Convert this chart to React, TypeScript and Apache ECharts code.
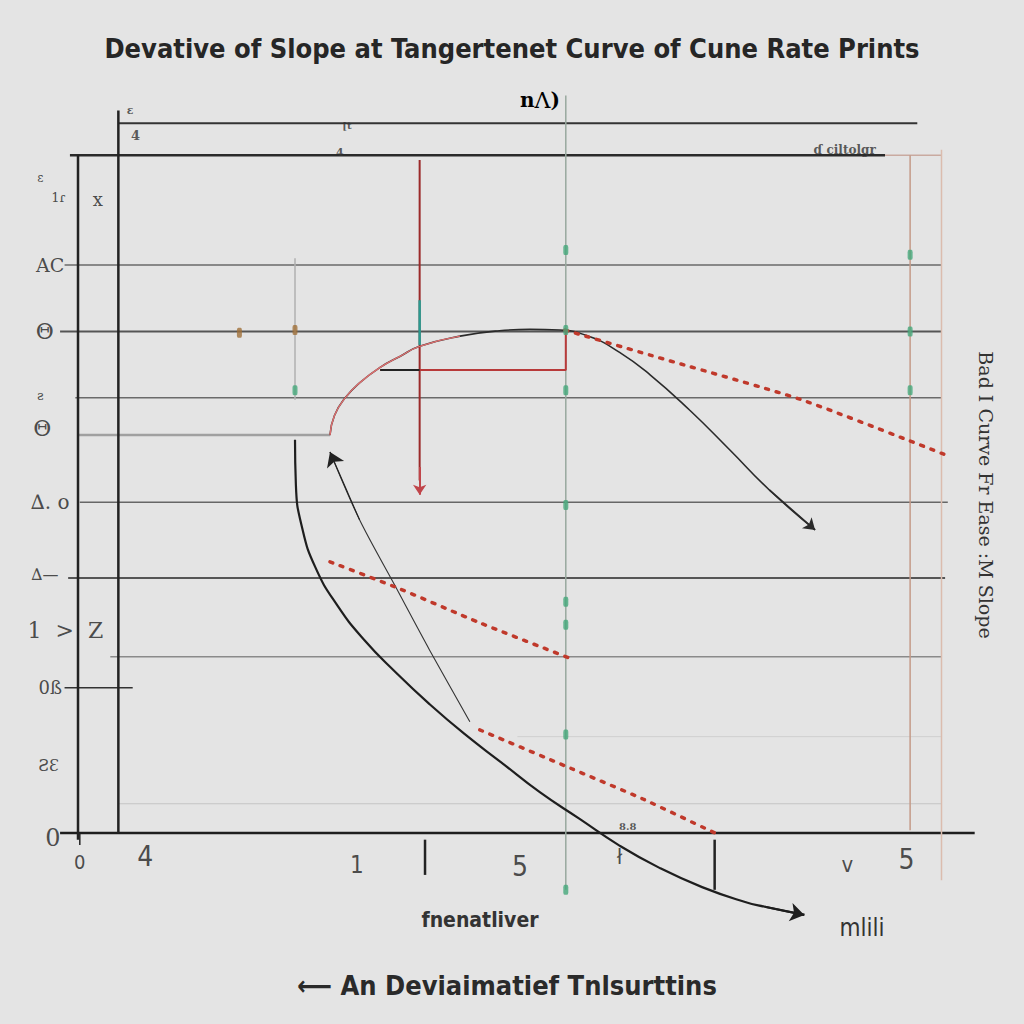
import React, { useEffect, useRef } from "react";
import * as echarts from "echarts";

// Axis extents (data space covers the whole canvas; axes themselves are drawn as lines)
const X_MIN = -0.87;
const X_MAX = 10.55;
const Y_MIN = -2.82;
const Y_MAX = 12.29;

// Horizontal rule lines: y value, start x, end x
const hLineY = [10.47, 10.0, 10.0, 8.38, 7.4, 6.42, 5.87, 4.88, 3.76, 2.6, 2.14, 1.42, 0.43, 0];
const hLineFrom = [0.45, -0.09, 9.0, -0.15, -0.2, -0.03, 0, 0.02, -0.11, 0.36, -0.15, 4.9, 0.45, -0.2];
const hLineTo = [9.36, 9.0, 9.63, 9.63, 9.63, 9.63, 2.81, 9.7, 9.67, 9.63, 0.61, 9.63, 9.63, 10.0];
const hLineColor = ["#333", "#2a2a2a", "#c9aaa0", "#6a6a6a", "#555", "#6a6a6a", "#a0a0a0", "#666", "#555", "#8a8a8a", "#333", "#cfcfcf", "#c4c4c4", "#1e1e1e"];
const hLineWidth = [2, 2.5, 1.5, 1.5, 2, 1.5, 2.5, 1.5, 2, 1.5, 1.5, 1, 1, 2.5];

// Vertical rule lines: x value, start y, end y
const vLineX = [0, 0.45, 2.42, 3.81, 5.44, 7.1, 9.28, 9.63, 3.87, 0.02];
const vLineFrom = [-0.1, 0, 6.39, 5.2, -0.84, -0.84, 0.04, -0.7, -0.62, -0.18];
const vLineTo = [10.0, 10.66, 8.48, 9.93, 10.88, -0.1, 10.0, 10.08, -0.1, 0];
const vLineColor = ["#222", "#222", "#b0b0b0", "#9b2a2a", "#98a89e", "#222", "#c49a88", "#dbbcae", "#222", "#222"];
const vLineWidth = [2.5, 2.5, 1.5, 2, 1.5, 2.5, 1.5, 1.5, 2.5, 1.5];

// Teal overlay on the red vertical
const tealX = [3.81, 3.81];
const tealY = [7.86, 7.2];

// Red step: horizontal then vertical
const stepX = [3.37, 5.44, 5.44];
const stepY = [6.83, 6.83, 7.42];

// Upper arc (rises, peaks, falls to arrow)
const arcX = [2.81, 2.86, 2.98, 3.14, 3.37, 3.59, 3.81, 4.26, 4.7, 5.04, 5.37, 5.71, 6.04, 6.38, 6.82, 7.27, 7.71, 8.22];
const arcY = [5.87, 6.16, 6.42, 6.64, 6.87, 7.03, 7.18, 7.33, 7.41, 7.43, 7.42, 7.32, 7.09, 6.76, 6.24, 5.65, 5.06, 4.47];

// Lower large curve
const lowX = [2.42, 2.43, 2.5, 2.65, 2.89, 3.19, 3.55, 3.92, 4.31, 4.73, 5.15, 5.59, 6.03, 6.49, 6.96, 7.44, 7.66, 8.1];
const lowY = [5.8, 5.13, 4.5, 3.91, 3.36, 2.85, 2.36, 1.9, 1.46, 1.03, 0.6, 0.21, -0.18, -0.52, -0.8, -1.02, -1.09, -1.21];

// Thin diagonal line
const thinX = [2.81, 3.14, 3.53, 3.92, 4.37];
const thinY = [5.62, 4.62, 3.66, 2.7, 1.64];

// Red dotted tangent lines
const dot1X = [5.43, 6.38, 8.05, 9.67];
const dot1Y = [7.42, 7.05, 6.4, 5.58];
const dot2X = [2.81, 3.59, 4.48, 5.48];
const dot2Y = [4.0, 3.6, 3.1, 2.58];
const dot3X = [4.48, 5.5, 6.3, 7.1];
const dot3Y = [1.52, 0.95, 0.5, 0.0];

// Green marks
const greenX = [5.44, 5.44, 5.44, 5.44, 5.44, 5.44, 5.44, 5.44, 9.28, 9.28, 9.28, 2.42];
const greenY = [8.6, 7.42, 6.53, 4.84, 3.41, 3.07, 1.45, -0.84, 8.53, 7.4, 6.53, 6.53];

// Brown marks
const brownX = [2.42, 1.8];
const brownY = [7.42, 7.38];

// Left tick labels
const leftLabels = ["ε", "1ɾ", "x", "AC", "Θ", "ꙅ", "Θ", "∆. o", "∆—", "1  >  Z", "0ß", "ƧƐ", "0"];
const leftX = [-0.42, -0.22, 0.22, -0.31, -0.37, -0.42, -0.4, -0.31, -0.37, -0.14, -0.31, -0.33, -0.28];
const leftY = [9.66, 9.37, 9.34, 8.38, 7.4, 6.45, 5.97, 4.88, 3.81, 2.99, 2.14, 1.0, -0.07];
const leftSize = [12, 13, 18, 19, 22, 13, 22, 20, 16, 22, 18, 16, 24];

// Bottom tick labels
const bottomLabels = ["0", "4", "1", "5", "ł", "v", "5"];
const bottomX = [0.02, 0.75, 3.11, 4.93, 6.04, 8.58, 9.24];
const bottomY = [-0.43, -0.35, -0.47, -0.5, -0.35, -0.47, -0.4];
const bottomSize = [20, 28, 24, 28, 22, 22, 28];

// Small scattered annotations
const noteLabels = ["ɛ", "4", "[t", "4", "ɗ ciltolgr", "8.8"];
const noteX = [0.58, 0.64, 3.0, 2.92, 8.55, 6.13];
const noteY = [10.66, 10.29, 10.44, 10.04, 10.07, 0.1];
const noteSize = [11, 13, 10, 11, 12, 10];

const pairs = (xs: number[], ys: number[]) => xs.map((x, i) => [x, ys[i]]);

function lineSeries(data: number[][], color: string, width: number, extra: any = {}) {
  return {
    type: "line",
    data,
    symbol: "none",
    showSymbol: false,
    clip: false,
    silent: true,
    animation: false,
    lineStyle: { color, width, ...(extra.lineStyle || {}) },
    smooth: extra.smooth || false,
    z: extra.z || 2,
  };
}

function arrowSeries(from: number[], to: number[], color: string, width: number, size: number) {
  return {
    type: "lines",
    coordinateSystem: "cartesian2d",
    silent: true,
    symbol: ["none", "arrow"],
    symbolSize: size,
    lineStyle: { color, width, opacity: 1 },
    data: [{ coords: [from, to] }],
    z: 5,
  };
}

function labelSeries(texts: string[], xs: number[], ys: number[], sizes: number[], font: string, color: string, weight = "normal") {
  return {
    type: "scatter",
    symbolSize: 0,
    clip: false,
    silent: true,
    data: texts.map((t, i) => ({
      name: t,
      value: [xs[i], ys[i]],
      label: { fontSize: sizes[i] },
    })),
    label: {
      show: true,
      position: "inside",
      formatter: (p: any) => p.name,
      fontFamily: font,
      color,
      fontWeight: weight,
    },
    z: 6,
  };
}

export default function App() {
  const ref = useRef<HTMLDivElement>(null);
  useEffect(() => {
    document.body.style.margin = "0";
    if (!ref.current) return;
    const chart = echarts.init(ref.current, undefined, { renderer: "svg" });
    const series: any[] = [];
    hLineY.forEach((y, i) => {
      series.push(lineSeries([[hLineFrom[i], y], [hLineTo[i], y]], hLineColor[i], hLineWidth[i]));
    });
    vLineX.forEach((x, i) => {
      series.push(lineSeries([[x, vLineFrom[i]], [x, vLineTo[i]]], vLineColor[i], vLineWidth[i]));
    });
    series.push(lineSeries(pairs(tealX, tealY), "#2a9a90", 2.5, { z: 3 }));
    series.push(lineSeries(pairs(stepX, stepY), "#b83a3a", 2, { z: 3 }));
    series.push(lineSeries([[stepX[0], stepY[0]], [3.81, stepY[0]]], "#222", 2, { z: 3 }));
    series.push(lineSeries(pairs(arcX, arcY), "#2a2a2a", 1.6, { smooth: 0.5, z: 4 }));
    series.push(lineSeries(pairs(arcX.slice(0, 8), arcY.slice(0, 8)), "#e07070", 1.4, { smooth: 0.5, z: 4 }));
    series.push(lineSeries(pairs(lowX, lowY), "#1e1e1e", 2.2, { smooth: 0.5, z: 4 }));
    series.push(lineSeries(pairs(thinX, thinY), "#333", 1.1, { smooth: 0.3, z: 4 }));
    const dotted = { lineStyle: { type: [3, 8], cap: "round" } };
    series.push(lineSeries(pairs(dot1X, dot1Y), "#c0392b", 3.5, { ...dotted, smooth: 0.2, z: 4 }));
    series.push(lineSeries(pairs(dot2X, dot2Y), "#c0392b", 3.5, { ...dotted, smooth: 0.2, z: 4 }));
    series.push(lineSeries(pairs(dot3X, dot3Y), "#c0392b", 3.5, { ...dotted, smooth: 0.2, z: 4 }));
    const nA = arcX.length;
    const nL = lowX.length;
    series.push(arrowSeries([arcX[nA - 2], arcY[nA - 2]], [arcX[nA - 1], arcY[nA - 1]], "#2a2a2a", 1.6, 11));
    series.push(arrowSeries([lowX[nL - 2], lowY[nL - 2]], [lowX[nL - 1], lowY[nL - 1]], "#1e1e1e", 2.2, 14));
    series.push(arrowSeries([thinX[1], thinY[1]], [thinX[0], thinY[0]], "#222", 1.1, 14));
    series.push(arrowSeries([3.81, 5.4], [3.81, 4.99], "#c0454a", 2, 10));
    series.push({
      type: "scatter",
      symbol: "roundRect",
      symbolSize: [5, 10],
      clip: false,
      silent: true,
      itemStyle: { color: "#45a87a" },
      data: pairs(greenX, greenY),
      z: 5,
    });
    series.push({
      type: "scatter",
      symbol: "roundRect",
      symbolSize: [5, 10],
      clip: false,
      silent: true,
      itemStyle: { color: "#a0703a" },
      data: pairs(brownX, brownY),
      z: 5,
    });
    const serif = "'DejaVu Serif', 'Liberation Serif', serif";
    const narrow = "'Liberation Sans Narrow', 'DejaVu Sans Condensed', 'Liberation Sans', sans-serif";
    series.push(labelSeries(leftLabels, leftX, leftY, leftSize, serif, "#222"));
    series.push(labelSeries(bottomLabels, bottomX, bottomY, bottomSize, narrow, "#222"));
    series.push(labelSeries(noteLabels, noteX, noteY, noteSize, serif, "#333", "bold"));

    chart.setOption({
      animation: false,
      backgroundColor: "#e4e4e4",
      grid: { left: 0, right: 0, top: 0, bottom: 0 },
      xAxis: { type: "value", min: X_MIN, max: X_MAX, show: false },
      yAxis: { type: "value", min: Y_MIN, max: Y_MAX, show: false },
      title: {
        text: "Devative of Slope at Tangertenet Curve of Cune Rate Prints",
        left: "center",
        top: 30,
        textStyle: {
          fontFamily: narrow,
          fontSize: 27,
          fontWeight: "bold",
          color: "#262626",
        },
      },
      graphic: [
        {
          type: "text",
          x: 540,
          y: 100,
          style: {
            text: "{a|n}{b|Λ}{a|)}",
            align: "center",
            verticalAlign: "middle",
            rich: {
              a: { fontSize: 20, fontFamily: serif, color: "#222", fontWeight: "bold" },
              b: { fontSize: 22, fontFamily: serif, color: "#d05050" },
            },
          },
        },
        {
          type: "text",
          x: 480,
          y: 920,
          style: {
            text: "fnenatliver",
            align: "center",
            verticalAlign: "middle",
            fontSize: 21,
            fontWeight: "bold",
            fontFamily: narrow,
            fill: "#333",
          },
        },
        {
          type: "text",
          x: 862,
          y: 928,
          style: {
            text: "mlili",
            align: "center",
            verticalAlign: "middle",
            fontSize: 24,
            fontFamily: narrow,
            fill: "#333",
          },
        },
        {
          type: "text",
          x: 507,
          y: 985,
          style: {
            text: "⟵ An Deviaimatief Tnlsurttins",
            align: "center",
            verticalAlign: "middle",
            fontSize: 27,
            fontWeight: "bold",
            fontFamily: narrow,
            fill: "#2a2a2a",
          },
        },
        {
          type: "text",
          x: 986,
          y: 495,
          rotation: -Math.PI / 2,
          style: {
            text: "Bad I Curve Fr Ease :M Slope",
            align: "center",
            verticalAlign: "middle",
            fontSize: 19,
            fontFamily: serif,
            fill: "#333",
          },
        },
      ],
      series,
    });
    return () => chart.dispose();
  }, []);
  return <div ref={ref} style={{ width: 1024, height: 1024 }} />;
}
